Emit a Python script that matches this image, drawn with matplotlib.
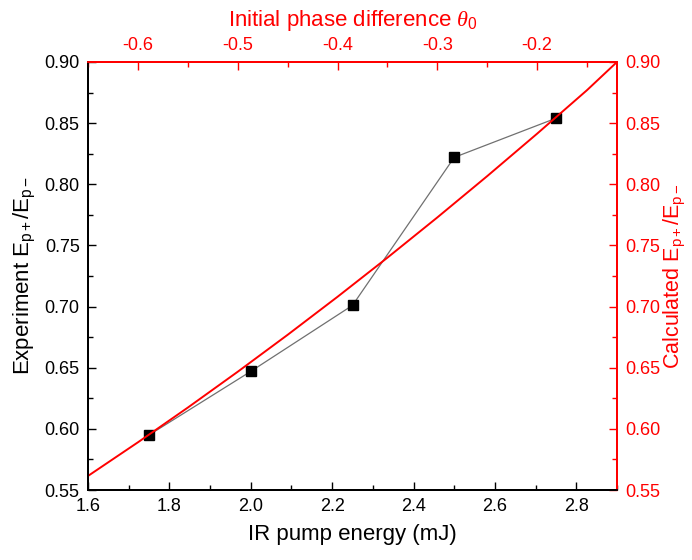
import numpy as np
import matplotlib
matplotlib.use('Agg')
import matplotlib.pyplot as plt
from matplotlib.ticker import MultipleLocator, FormatStrFormatter

# experiment data
energy = [1.75, 2.00, 2.25, 2.50, 2.75]
ratio_exp = [0.595, 0.647, 0.701, 0.822, 0.854]

# calculated curve vs. initial phase difference
theta = [-0.65, -0.60, -0.55, -0.50, -0.45, -0.40, -0.35, -0.30, -0.25, -0.20, -0.15, -0.12]
ratio_calc = [0.5615, 0.5890, 0.6174, 0.6467, 0.6769, 0.7080, 0.7400, 0.7729, 0.8067, 0.8414, 0.8770, 0.900]

plt.rcParams['font.family'] = ['Liberation Sans', 'DejaVu Sans']
plt.rcParams['mathtext.fontset'] = 'custom'
plt.rcParams['mathtext.rm'] = 'Liberation Sans'
plt.rcParams['mathtext.it'] = 'Liberation Serif:italic'
plt.rcParams['axes.unicode_minus'] = False

RED = '#ff0000'

fig = plt.figure(figsize=(6.92, 5.6), dpi=100)
ax = fig.add_axes([0.1272, 0.125, 0.7644, 0.7643])
ax_r = ax.twinx()
ax_t = ax_r.twiny()

# experiment
ax.plot(energy, ratio_exp, '-', color='#707070', linewidth=0.9, zorder=2)
ax.plot(energy, ratio_exp, 's', color='black', markersize=7, zorder=3)

# calculated
ax_t.plot(theta, ratio_calc, '-', color=RED, linewidth=1.4)

ax.set_xlim(1.6, 2.9)
ax.set_ylim(0.55, 0.90)
ax_r.set_ylim(0.55, 0.90)
ax_t.set_xlim(-0.65, -0.12)

ax.xaxis.set_major_locator(MultipleLocator(0.2))
ax.xaxis.set_minor_locator(MultipleLocator(0.1))
ax.xaxis.set_major_formatter(FormatStrFormatter('%.1f'))
for a in (ax, ax_r):
    a.yaxis.set_major_locator(MultipleLocator(0.05))
    a.yaxis.set_minor_locator(MultipleLocator(0.025))
    a.yaxis.set_major_formatter(FormatStrFormatter('%.2f'))
ax_t.xaxis.set_major_locator(MultipleLocator(0.1))
ax_t.xaxis.set_minor_locator(MultipleLocator(0.05))
ax_t.xaxis.set_major_formatter(FormatStrFormatter('%.1f'))

for a in (ax, ax_r, ax_t):
    a.spines['left'].set_color('black')
    a.spines['bottom'].set_color('black')
    a.spines['top'].set_color(RED)
    a.spines['right'].set_color(RED)
    for s in a.spines.values():
        s.set_linewidth(1.3)

for a, c in ((ax, 'black'), (ax_r, RED), (ax_t, RED)):
    a.tick_params(which='both', direction='in', width=1.0, labelsize=13, pad=6, colors=c)
    a.tick_params(which='major', length=6)
    a.tick_params(which='minor', length=3.5)

ax.set_xlabel('IR pump energy (mJ)', fontsize=16, labelpad=6)
ax.set_ylabel(r'Experiment E$_{\mathrm{p+}}$/E$_{\mathrm{p-}}$', fontsize=16, labelpad=5)
ax_r.set_ylabel(r'Calculated E$_{\mathrm{p+}}$/E$_{\mathrm{p-}}$', fontsize=15.5, color=RED, labelpad=1)
ax_t.set_xlabel(r'Initial phase difference $\theta_0$', fontsize=16, color=RED, labelpad=8)

fig.savefig('out.png', dpi=100)
